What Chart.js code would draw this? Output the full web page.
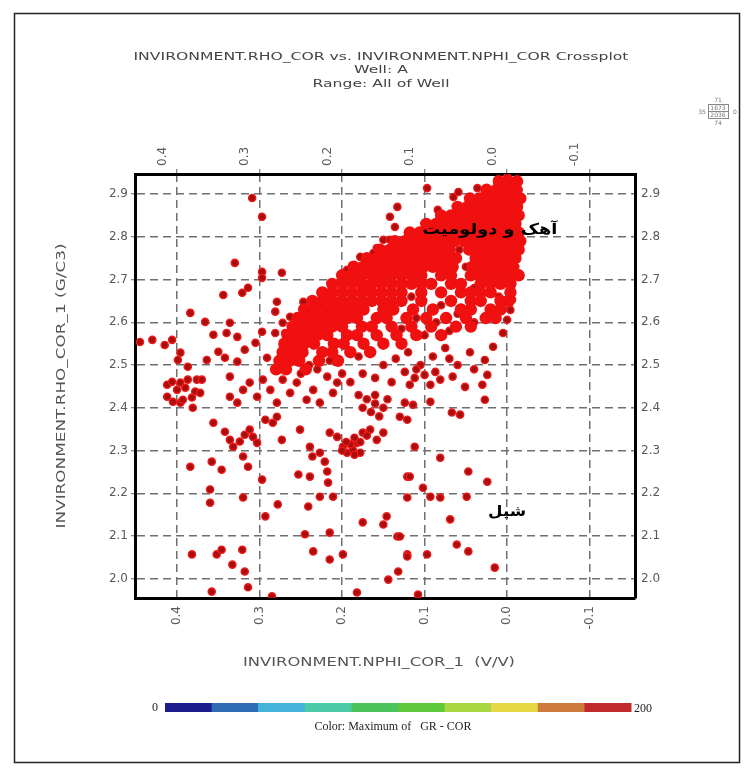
<!DOCTYPE html>
<html>
<head>
<meta charset="utf-8">
<script src="https://cdn.jsdelivr.net/npm/chart.js@4.4.1/dist/chart.umd.min.js"></script>
<style>
  html, body { margin: 0; padding: 0; background: #fff; }
  canvas { display: block; }
</style>
</head>
<body>
<canvas id="xplot" width="750" height="772"></canvas>
<script>
/* ============================================================
   ============================================================ */
const titleLines = [
    "INVIRONMENT.RHO_COR vs. INVIRONMENT.NPHI_COR Crossplot",
    "Well: A",
    "Range: All of Well"
];
const xTitle = "INVIRONMENT.NPHI_COR_1  (V/V)";
const yTitle = "INVIRONMENT.RHO_COR_1 (G/C3)";

const nphiTicks = [0.4, 0.3, 0.2, 0.1, 0.0, -0.1];
const rhoTicks = [2.0, 2.1, 2.2, 2.3, 2.4, 2.5, 2.6, 2.7, 2.8, 2.9];

const X_MIN = -0.155, X_MAX = 0.451;
const Y_MIN = 1.955, Y_MAX = 2.947;

// dense core of the cloud: one rho row, with the nphi values seen along it
const coreRho = [2.93, 2.91, 2.89, 2.87, 2.85, 2.83, 2.81, 2.79, 2.77, 2.75, 2.73,
                 2.71, 2.69, 2.67, 2.65, 2.63, 2.61, 2.59, 2.57, 2.55, 2.53, 2.51, 2.49];
const coreNphi = [
    [0.01, -0.002, -0.012],
    [0.025, 0.013, 0.001, -0.011],
    [0.045, 0.033, 0.02, 0.008, -0.004, -0.016],
    [0.06, 0.048, 0.036, 0.024, 0.012, 0.0, -0.012],
    [0.08, 0.068, 0.056, 0.044, 0.032, 0.02, 0.008, -0.004, -0.014],
    [0.098, 0.086, 0.074, 0.062, 0.05, 0.038, 0.026, 0.014, 0.002, -0.01],
    [0.118, 0.106, 0.094, 0.082, 0.07, 0.058, 0.046, 0.034, 0.022, 0.01, -0.002, -0.014],
    [0.136, 0.124, 0.112, 0.1, 0.088, 0.076, 0.064, 0.052, 0.04, 0.028, 0.016, 0.004, -0.008, -0.016],
    [0.154, 0.142, 0.13, 0.118, 0.106, 0.094, 0.082, 0.07, 0.046, 0.034, 0.022, 0.01, -0.002, -0.014],
    [0.17, 0.158, 0.146, 0.134, 0.122, 0.11, 0.098, 0.086, 0.074, 0.062, 0.038, 0.026, 0.014, 0.002, -0.01],
    [0.186, 0.174, 0.162, 0.15, 0.138, 0.126, 0.114, 0.102, 0.09, 0.078, 0.066, 0.042, 0.03, 0.018, 0.006, -0.006],
    [0.2, 0.188, 0.176, 0.164, 0.152, 0.14, 0.128, 0.116, 0.104, 0.08, 0.068, 0.044, 0.032, 0.02, 0.008, -0.004, -0.014],
    [0.212, 0.2, 0.188, 0.176, 0.164, 0.152, 0.14, 0.128, 0.116, 0.104, 0.092, 0.068, 0.056, 0.032, 0.02, 0.008, -0.004],
    [0.224, 0.212, 0.2, 0.188, 0.176, 0.164, 0.152, 0.14, 0.128, 0.104, 0.08, 0.056, 0.044, 0.032, 0.02, -0.004],
    [0.236, 0.224, 0.212, 0.2, 0.188, 0.176, 0.164, 0.152, 0.14, 0.128, 0.104, 0.068, 0.044, 0.032, 0.008, -0.002],
    [0.246, 0.234, 0.222, 0.21, 0.198, 0.186, 0.174, 0.15, 0.138, 0.114, 0.09, 0.056, 0.044, 0.02, 0.008],
    [0.254, 0.242, 0.23, 0.218, 0.206, 0.194, 0.182, 0.158, 0.146, 0.122, 0.098, 0.074, 0.05, 0.026, 0.014],
    [0.26, 0.248, 0.236, 0.224, 0.212, 0.2, 0.176, 0.164, 0.14, 0.116, 0.092, 0.062, 0.044],
    [0.266, 0.254, 0.242, 0.23, 0.218, 0.194, 0.182, 0.158, 0.134, 0.11, 0.08],
    [0.27, 0.258, 0.246, 0.234, 0.21, 0.198, 0.174, 0.15, 0.128],
    [0.272, 0.26, 0.248, 0.224, 0.212, 0.19, 0.166],
    [0.276, 0.264, 0.252, 0.228, 0.205],
    [0.28, 0.268, 0.244]
];

// single samples around the core: [nphi, rho]
const scatterPoints = [
    [0.309,2.891],[0.297,2.847],[0.330,2.739],[0.297,2.718],[0.297,2.704],[0.273,2.716],[0.314,2.681],
    [0.321,2.669],[0.344,2.664],[0.279,2.648],[0.281,2.625],[0.247,2.648],[0.384,2.622],[0.366,2.601],
    [0.336,2.599],[0.340,2.575],[0.327,2.566],[0.356,2.571],[0.445,2.554],[0.430,2.559],[0.415,2.547],
    [0.406,2.559],[0.396,2.529],[0.399,2.512],[0.387,2.496],[0.364,2.512],[0.350,2.531],[0.342,2.517],
    [0.327,2.508],[0.318,2.536],[0.305,2.552],[0.297,2.578],[0.291,2.517],[0.281,2.575],[0.272,2.599],
    [0.269,2.575],[0.267,2.543],[0.263,2.613],[0.253,2.606],[0.239,2.625],[0.235,2.613],[0.215,2.653],
    [0.211,2.636],[0.194,2.723],[0.190,2.716],[0.178,2.753],[0.169,2.746],[0.162,2.762],[0.158,2.774],
    [0.150,2.793],[0.142,2.793],[0.142,2.847],[0.136,2.823],[0.133,2.870],[0.181,2.706],[0.175,2.723],
    [0.166,2.683],
    [0.097,2.914],[0.036,2.914],[0.012,2.933],[0.000,2.940],[-0.012,2.926],[-0.014,2.910],[0.065,2.893],
    [0.059,2.905],[0.084,2.863],[-0.010,2.879],[-0.012,2.856],[-0.010,2.730],[-0.006,2.653],[-0.004,2.629],
    [0.000,2.606],[0.005,2.575],[0.017,2.543],[0.027,2.512],
    [0.058,2.770],[0.050,2.730],[0.092,2.690],[0.116,2.660],[0.080,2.640],[0.060,2.620],[0.110,2.610],
    [0.086,2.600],[0.150,2.640],[0.128,2.585],[0.100,2.570],[0.070,2.580],[0.040,2.600],[0.020,2.620],
    [0.010,2.660],[0.040,2.680],[0.024,2.700],
    [0.412,2.454],[0.406,2.461],[0.396,2.459],[0.387,2.466],[0.376,2.466],[0.370,2.466],[0.400,2.442],
    [0.390,2.447],[0.378,2.438],[0.412,2.426],[0.405,2.414],[0.396,2.412],[0.393,2.419],[0.382,2.424],
    [0.372,2.435],[0.381,2.400],
    [0.356,2.365],[0.342,2.344],[0.336,2.325],[0.332,2.309],[0.324,2.321],[0.318,2.337],[0.312,2.349],
    [0.308,2.332],[0.303,2.318],[0.293,2.372],[0.284,2.365],[0.273,2.325],[0.279,2.379],
    [0.251,2.349],[0.239,2.309],[0.236,2.286],[0.227,2.295],[0.221,2.274],[0.215,2.342],[0.206,2.332],
    [0.199,2.309],[0.194,2.295],[0.187,2.302],[0.182,2.318],[0.178,2.295],[0.175,2.342],[0.166,2.349],
    [0.158,2.325],[0.150,2.342],[0.185,2.330],[0.190,2.315],[0.178,2.320],[0.170,2.335],[0.195,2.320],
    [0.200,2.300],[0.185,2.290],
    [0.180,2.430],[0.170,2.420],[0.160,2.410],[0.175,2.400],[0.165,2.390],[0.155,2.380],[0.150,2.400],
    [0.160,2.430],[0.145,2.420],
    [0.336,2.426],[0.327,2.412],[0.320,2.442],[0.312,2.459],[0.303,2.426],[0.296,2.466],[0.287,2.442],
    [0.279,2.412],[0.272,2.466],[0.263,2.435],[0.255,2.459],[0.243,2.419],[0.235,2.442],[0.227,2.412],
    [0.218,2.473],[0.211,2.435],[0.206,2.459],[0.336,2.473],
    [0.150,2.500],[0.135,2.515],[0.120,2.530],[0.105,2.500],[0.090,2.520],[0.075,2.540],[0.060,2.500],
    [0.045,2.530],[0.040,2.490],[0.070,2.515],[0.110,2.490],[0.160,2.470],[0.140,2.460],[0.175,2.480],
    [0.200,2.480],[0.190,2.460],[0.230,2.490],[0.250,2.480],[0.240,2.500],[0.215,2.510],[0.180,2.520],
    [0.384,2.262],[0.358,2.274],[0.346,2.255],[0.320,2.286],[0.314,2.262],[0.360,2.209],[0.360,2.178],
    [0.320,2.190],[0.297,2.232],[0.293,2.146],[0.278,2.174],[0.253,2.244],[0.239,2.239],[0.218,2.251],
    [0.217,2.225],[0.241,2.169],[0.227,2.192],[0.211,2.192],[0.175,2.132],[0.146,2.146],[0.150,2.127],
    [0.245,2.104],[0.215,2.108],[0.235,2.064],[0.215,2.045],[0.199,2.057],[0.182,1.968],[0.382,2.057],
    [0.352,2.057],[0.346,2.068],[0.321,2.068],[0.333,2.033],[0.318,2.017],[0.314,1.980],[0.358,1.970],
    [0.285,1.959],[0.133,2.099],[0.132,2.017],[0.144,1.998],[0.121,2.239],[0.121,2.190],[0.121,2.057],
    [0.124,2.484],[0.112,2.470],[0.100,2.477],[0.087,2.484],[0.081,2.466],[0.118,2.454],[0.093,2.454],
    [0.066,2.473],[0.051,2.449],[0.030,2.454],[0.024,2.477],[0.027,2.419],[0.124,2.412],[0.114,2.407],
    [0.093,2.414],[0.130,2.379],[0.121,2.372],[0.067,2.389],[0.057,2.384],[0.112,2.309],[0.081,2.283],
    [0.118,2.239],[0.047,2.251],[0.024,2.227],[0.102,2.213],[0.093,2.192],[0.081,2.190],[0.049,2.192],
    [0.069,2.139],[0.130,2.099],[0.121,2.052],[0.097,2.057],[0.061,2.080],[0.047,2.064],[0.015,2.026],
    [0.108,1.963]
];

// annotation labels written on the plot
const zoneLabels = [
    { text: "آهک و دولومیت", x: 0.021, y: 2.815, width: 135 },
    { text: "شیل", x: 0.0, y: 2.157, width: 38 }
];

// colour bar (GR - COR)
const barColors = ["#1c1c8e", "#2e6cb6", "#44b3dc", "#4cc9a6", "#4dc35b",
                   "#5ec93c", "#a9d73f", "#e6d744", "#cd7a3c", "#c02a2c"];
const barLabels = ["0", "200"];
const barCaption = "Color: Maximum of   GR - COR";

/* ============================================================
   HELPERS
   ============================================================ */
const FONT = '"DejaVu Sans", sans-serif';
Chart.defaults.font.family = FONT;
Chart.defaults.color = "#5a5a5a";

function fmt(v) {
    return (Math.abs(v) < 1e-9 ? 0 : v).toFixed(1);
}

function stretchText(ctx, text, cx, cy, width) {
    const w = ctx.measureText(text).width;
    ctx.save();
    ctx.translate(cx, cy);
    ctx.scale(width / w, 1);
    ctx.fillText(text, 0, 0);
    ctx.restore();
}

const tickFont = { family: FONT, size: 12 };

function nphiAxis(position) {
    const top = position === "top";
    return {
        type: "linear", position, reverse: true, min: X_MIN, max: X_MAX,
        afterBuildTicks: s => { s.ticks = nphiTicks.map(v => ({ value: v })); },
        afterFit: s => { s.height = top ? 50 : 90; },
        grid: {
            drawOnChartArea: !top, drawTicks: top, tickLength: 5,
            color: "#707070", lineWidth: 1.5, tickColor: "#666", tickWidth: 1
        },
        border: { display: true, color: "#000", width: 3, dash: [8, 5] },
        ticks: {
            minRotation: 90, maxRotation: 90, padding: top ? 3 : 8,
            color: "#5a5a5a", font: tickFont, callback: v => fmt(v)
        }
    };
}

function rhoAxis(position) {
    const left = position === "left";
    return {
        type: "linear", position, min: Y_MIN, max: Y_MAX,
        afterBuildTicks: s => { s.ticks = rhoTicks.map(v => ({ value: v })); },
        afterFit: s => { s.width = left ? 95 : 45; },
        grid: {
            drawOnChartArea: left, drawTicks: left, tickLength: 4,
            color: "#707070", lineWidth: 1.5, tickColor: "#666", tickWidth: 1
        },
        border: { display: true, color: "#000", width: 3, dash: [8, 5] },
        ticks: { padding: left ? 3 : 6, color: "#5a5a5a", font: tickFont, callback: v => fmt(v) }
    };
}

/* ============================================================
   TEXT / FRAME / COLOUR BAR PLUGIN
   ============================================================ */
const decorPlugin = {
    id: "decor",
    afterDraw(chart) {
        const { ctx, chartArea: a, scales } = chart;
        ctx.save();

        // outer frame
        ctx.strokeStyle = "#222";
        ctx.lineWidth = 1.5;
        ctx.strokeRect(14.5, 13.5, 725, 749);

        // title
        ctx.fillStyle = "#444";
        ctx.textAlign = "center";
        ctx.textBaseline = "middle";
        ctx.font = "11px " + FONT;
        const sx = 495 / ctx.measureText(titleLines[0]).width;
        titleLines.forEach((t, i) => {
            const w = ctx.measureText(t).width * sx;
            stretchText(ctx, t, 381, 57 + i * 13.5, w);
        });

        // axis titles
        ctx.fillStyle = "#555";
        ctx.font = "12px " + FONT;
        stretchText(ctx, xTitle, 379, 663, 272);
        ctx.save();
        ctx.translate(62, (a.top + a.bottom) / 2);
        ctx.rotate(-Math.PI / 2);
        stretchText(ctx, yTitle, 0, 0, 285);
        ctx.restore();

        // zone labels on the cloud
        ctx.fillStyle = "#000";
        ctx.font = "bold 15px " + FONT;
        ctx.direction = "rtl";
        zoneLabels.forEach(z => {
            const px = scales.x.getPixelForValue(z.x);
            const py = scales.y.getPixelForValue(z.y);
            stretchText(ctx, z.text, px, py, z.width);
        });
        ctx.direction = "ltr";

        // colour bar
        const bx = 165, bw = 466, by = 703, bh = 9;
        const seg = bw / barColors.length;
        barColors.forEach((c, i) => {
            ctx.fillStyle = c;
            ctx.fillRect(bx + i * seg, by, seg + 0.5, bh);
        });
        ctx.fillStyle = "#222";
        ctx.font = "12px \"Liberation Serif\", serif";
        ctx.textAlign = "right";
        ctx.fillText(barLabels[0], bx - 7, by + bh / 2);
        ctx.textAlign = "left";
        ctx.fillText(barLabels[1], bx + bw + 3, by + bh / 2 + 1);
        ctx.textAlign = "center";
        ctx.fillText(barCaption, 393, 727);

        // small orientation key, top right
        ctx.strokeStyle = "#888";
        ctx.lineWidth = 1;
        ctx.strokeRect(708.5, 104.5, 20, 14);
        ctx.beginPath();
        ctx.moveTo(708.5, 111.5);
        ctx.lineTo(728.5, 111.5);
        ctx.stroke();
        ctx.fillStyle = "#777";
        ctx.font = "6px " + FONT;
        ctx.fillText("71", 718, 100);
        ctx.fillText("1673", 718, 108);
        ctx.fillText("2036", 718, 115);
        ctx.fillText("74", 718, 123);
        ctx.fillText("35", 702, 112);
        ctx.fillText("0", 735, 112);

        ctx.restore();
    }
};

/* ============================================================
   CHART
   ============================================================ */
const coreData = [];
coreRho.forEach((rho, i) => {
    coreNphi[i].forEach(n => coreData.push({ x: n, y: rho }));
});
const scatterData = scatterPoints.map(p => ({ x: p[0], y: p[1] }));

new Chart(document.getElementById("xplot"), {
    type: "scatter",
    data: {
        datasets: [
            {
                label: "core",
                data: coreData,
                xAxisID: "x", yAxisID: "y",
                pointRadius: 6.2,
                pointBackgroundColor: "#f01010",
                pointBorderColor: "#f01010",
                pointBorderWidth: 0
            },
            {
                label: "samples",
                data: scatterData,
                xAxisID: "x", yAxisID: "y",
                pointRadius: 3.6,
                pointBackgroundColor: "#a90d0d",
                pointBorderColor: "#f01a1a",
                pointBorderWidth: 1.4
            }
        ]
    },
    options: {
        responsive: false,
        animation: false,
        events: [],
        layout: { padding: { top: 124, left: 40, right: 70, bottom: 84 } },
        plugins: { legend: { display: false }, tooltip: { enabled: false } },
        scales: {
            x: nphiAxis("bottom"),
            x2: nphiAxis("top"),
            y: rhoAxis("left"),
            y2: rhoAxis("right")
        }
    },
    plugins: [decorPlugin]
});
</script>
</body>
</html>
